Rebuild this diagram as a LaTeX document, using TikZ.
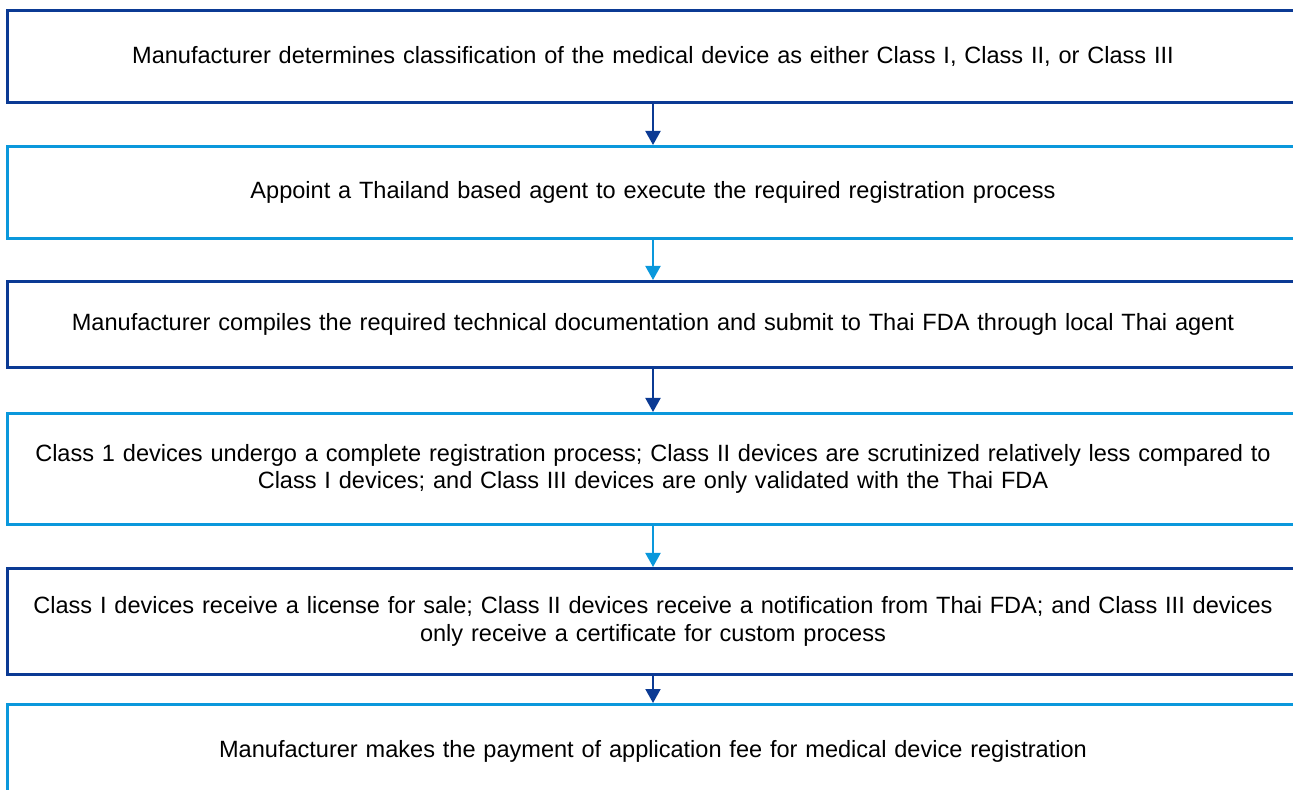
\documentclass[tikz,border=0pt]{standalone}
\usepackage{xcolor}
\usepackage{fontspec}
\setmainfont{Liberation Sans}
\usepackage{tikz}
\usetikzlibrary{arrows.meta, positioning}

\definecolor{regdark}{HTML}{0B3A94}
\definecolor{reglight}{HTML}{0A98DC}

\begin{document}
\begin{tikzpicture}[node distance=0.82cm, auto]
\tikzstyle{stepbase} = [rectangle, minimum width=25.8cm, text width=25.4cm, align=center, line width=0.06cm, fill=white, font=\fontsize{13.4}{15.8}\selectfont]
\tikzstyle{darkbox} = [stepbase, draw=regdark]
\tikzstyle{lightbox} = [stepbase, draw=reglight]
\tikzstyle{darkarrow} = [line width=0.04cm, draw=regdark, -{Triangle[width=0.3cm,length=0.28cm]}]
\tikzstyle{lightarrow} = [line width=0.04cm, draw=reglight, -{Triangle[width=0.3cm,length=0.28cm]}]

\useasboundingbox (0,0) rectangle (25.86,-15.8);

\node (classify) [darkbox, minimum height=1.84cm, anchor=north] at (13.06,-0.18) {Manufacturer determines classification of the medical device as either Class I, Class II, or Class III};
\node (agent) [lightbox, minimum height=1.84cm, below=0.82cm of classify] {Appoint a Thailand based agent to execute the required registration process};
\node (docs) [darkbox, minimum height=1.72cm, below=0.80cm of agent] {Manufacturer compiles the required technical documentation and submit to Thai FDA through local Thai agent};
\node (review) [lightbox, minimum height=2.22cm, below=0.86cm of docs] {Class 1 devices undergo a complete registration process; Class II devices are scrutinized relatively less compared to\\Class I devices; and Class III devices are only validated with the Thai FDA};
\node (approval) [darkbox, minimum height=2.12cm, below=0.82cm of review] {Class I devices receive a license for sale; Class II devices receive a notification from Thai FDA; and Class III devices\\only receive a certificate for custom process};
\node (payment) [lightbox, minimum height=1.88cm, below=0.54cm of approval] {Manufacturer makes the payment of application fee for medical device registration};

\draw [darkarrow] (classify) -- (agent);
\draw [lightarrow] (agent) -- (docs);
\draw [darkarrow] (docs) -- (review);
\draw [lightarrow] (review) -- (approval);
\draw [darkarrow] (approval) -- (payment);
\end{tikzpicture}
\end{document}
